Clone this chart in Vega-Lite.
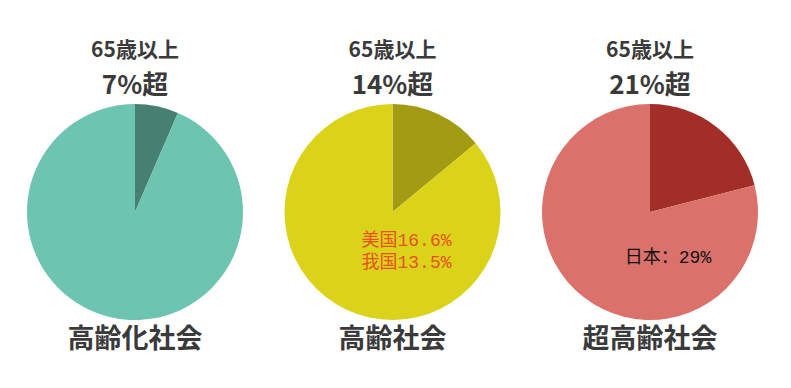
{
  "$schema": "https://vega.github.io/schema/vega-lite/v6.json",
  "padding": {"top": 36, "left": 0, "right": 0, "bottom": 0},
  "background": "white",
  "spacing": 0,
  "config": {"view": {"stroke": null}, "concat": {"spacing": 0}},
  "resolve": {"scale": {"color": "independent", "theta": "independent"}},
  "hconcat": [
    {
      "width": 270, "height": 352,
      "layer": [
        {
          "data": {"values": [{"part": "65歳以上", "value": 6.5, "o": 1}, {"part": "その他", "value": 93.5, "o": 2}]},
          "mark": {"type": "arc", "radius": 108},
          "encoding": {
            "theta": {"field": "value", "type": "quantitative"},
            "order": {"field": "o"},
            "color": {"field": "part", "type": "nominal", "scale": {"domain": ["65歳以上", "その他"], "range": ["#477F72", "#6DC5B1"]}, "legend": null}
          }
        },
        {
          "data": {"values": [{"t": "65歳以上"}]},
          "mark": {"type": "text", "dy": -161, "fontSize": 21, "fontWeight": "bold", "font": "Noto Sans CJK JP", "color": "#3a3a3a", "baseline": "middle"},
          "encoding": {"text": {"field": "t"}}
        },
        {
          "data": {"values": [{"t": "7%超"}]},
          "mark": {"type": "text", "dy": -126, "fontSize": 26, "fontWeight": "bold", "font": "Noto Sans CJK JP", "color": "#3a3a3a", "baseline": "middle"},
          "encoding": {"text": {"field": "t"}}
        },
        {
          "data": {"values": [{"t": "高齢化社会"}]},
          "mark": {"type": "text", "dy": 128, "fontSize": 27, "fontWeight": "bold", "font": "Noto Sans CJK JP", "color": "#3a3a3a", "baseline": "middle"},
          "encoding": {"text": {"field": "t"}}
        }
      ]
    },
    {
      "width": 245, "height": 352,
      "layer": [
        {
          "data": {"values": [{"part": "65歳以上", "value": 14, "o": 1}, {"part": "その他", "value": 86, "o": 2}]},
          "mark": {"type": "arc", "radius": 108},
          "encoding": {
            "theta": {"field": "value", "type": "quantitative"},
            "order": {"field": "o"},
            "color": {"field": "part", "type": "nominal", "scale": {"domain": ["65歳以上", "その他"], "range": ["#A39B13", "#DAD31A"]}, "legend": null}
          }
        },
        {
          "data": {"values": [{"t": "65歳以上"}]},
          "mark": {"type": "text", "dy": -161, "fontSize": 21, "fontWeight": "bold", "font": "Noto Sans CJK JP", "color": "#3a3a3a", "baseline": "middle"},
          "encoding": {"text": {"field": "t"}}
        },
        {
          "data": {"values": [{"t": "14%超"}]},
          "mark": {"type": "text", "dy": -126, "fontSize": 26, "fontWeight": "bold", "font": "Noto Sans CJK JP", "color": "#3a3a3a", "baseline": "middle"},
          "encoding": {"text": {"field": "t"}}
        },
        {
          "data": {"values": [{"t": "高齢社会"}]},
          "mark": {"type": "text", "dy": 128, "fontSize": 27, "fontWeight": "bold", "font": "Noto Sans CJK JP", "color": "#3a3a3a", "baseline": "middle"},
          "encoding": {"text": {"field": "t"}}
        },
        {
          "data": {"values": [{"t": "美国16.6%"}]},
          "mark": {"type": "text", "dx": 14, "dy": 29, "fontSize": 18, "font": "Liberation Mono, Noto Sans CJK SC", "color": "#E8501E", "baseline": "middle"},
          "encoding": {"text": {"field": "t"}}
        },
        {
          "data": {"values": [{"t": "我国13.5%"}]},
          "mark": {"type": "text", "dx": 14, "dy": 51, "fontSize": 18, "font": "Liberation Mono, Noto Sans CJK SC", "color": "#E8501E", "baseline": "middle"},
          "encoding": {"text": {"field": "t"}}
        }
      ]
    },
    {
      "width": 270, "height": 352,
      "layer": [
        {
          "data": {"values": [{"part": "65歳以上", "value": 21, "o": 1}, {"part": "その他", "value": 79, "o": 2}]},
          "mark": {"type": "arc", "radius": 108},
          "encoding": {
            "theta": {"field": "value", "type": "quantitative"},
            "order": {"field": "o"},
            "color": {"field": "part", "type": "nominal", "scale": {"domain": ["65歳以上", "その他"], "range": ["#A22E27", "#DA716B"]}, "legend": null}
          }
        },
        {
          "data": {"values": [{"t": "65歳以上"}]},
          "mark": {"type": "text", "dy": -161, "fontSize": 21, "fontWeight": "bold", "font": "Noto Sans CJK JP", "color": "#3a3a3a", "baseline": "middle"},
          "encoding": {"text": {"field": "t"}}
        },
        {
          "data": {"values": [{"t": "21%超"}]},
          "mark": {"type": "text", "dy": -126, "fontSize": 26, "fontWeight": "bold", "font": "Noto Sans CJK JP", "color": "#3a3a3a", "baseline": "middle"},
          "encoding": {"text": {"field": "t"}}
        },
        {
          "data": {"values": [{"t": "超高齢社会"}]},
          "mark": {"type": "text", "dy": 128, "fontSize": 27, "fontWeight": "bold", "font": "Noto Sans CJK JP", "color": "#3a3a3a", "baseline": "middle"},
          "encoding": {"text": {"field": "t"}}
        },
        {
          "data": {"values": [{"t": "日本：29%"}]},
          "mark": {"type": "text", "dx": 18, "dy": 46, "fontSize": 18, "font": "Liberation Mono, Noto Sans CJK SC", "color": "#111111", "baseline": "middle"},
          "encoding": {"text": {"field": "t"}}
        }
      ]
    }
  ]
}
